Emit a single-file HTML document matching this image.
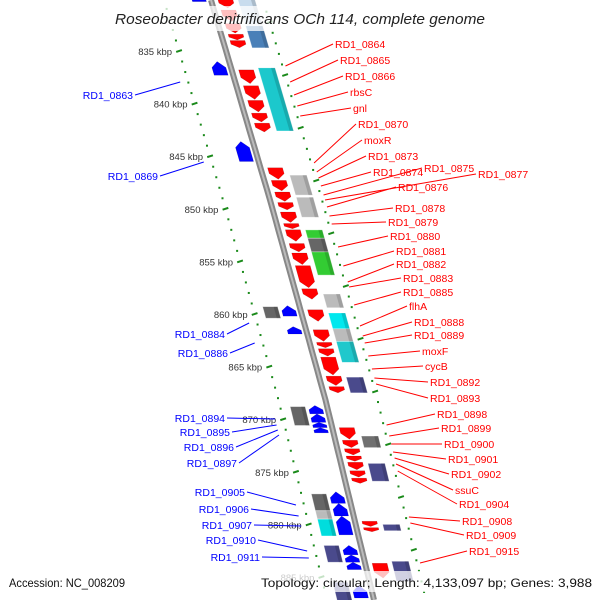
<!DOCTYPE html>
<html><head><meta charset="utf-8"><style>
html,body{margin:0;padding:0;background:#fff;width:600px;height:600px;overflow:hidden}
svg{display:block;overflow:hidden}
text{font-family:"Liberation Sans",sans-serif}
</style></head><body>
<svg id="map" width="600" height="600" viewBox="0 0 600 600" xmlns="http://www.w3.org/2000/svg">
<defs><clipPath id="frame"><rect x="0" y="0" width="600" height="600"/></clipPath></defs>
<g clip-path="url(#frame)">
<g id="ruler"></g>
<g id="genes"></g>
<g id="labels"></g>
</g>
<rect x="105" y="6" width="390" height="25" fill="#fff" opacity="0.75"/>
<text x="115" y="24" font-size="14.5" font-style="italic" fill="#222" textLength="370" lengthAdjust="spacingAndGlyphs">Roseobacter denitrificans OCh 114, complete genome</text>
<rect x="0" y="571" width="600" height="21" fill="#fff" opacity="0.75"/>
<text x="9" y="587" font-size="12" fill="#111" textLength="116" lengthAdjust="spacingAndGlyphs">Accession: NC_008209</text>
<text x="261" y="587" font-size="12" fill="#111" textLength="331" lengthAdjust="spacingAndGlyphs">Topology: circular; Length: 4,133,097 bp; Genes: 3,988</text>
</svg>
<script>
// ---- data (kbp) ----
const redGenes = [[830.0,830.9],[831.1,832.2],[832.4,833.3],[833.4,833.95],[834.0,834.7],
[836.8,838.1],[838.3,839.6],[839.7,840.8],[840.9,841.75],[841.85,842.7],
[846.1,847.2],[847.3,848.3],[848.4,849.3],[849.4,850.1],
[850.3,851.3],[851.4,851.9],[852.0,853.1],[853.3,854.1],[854.2,855.3],[855.4,857.5],[857.6,858.6],
[859.6,860.7],[861.5,862.6],[862.7,863.2],[863.3,864.0],[864.1,865.8],[865.9,866.8],[866.9,867.5],
[870.8,871.9],[872.0,872.7],[872.8,873.4],[873.5,874.0],[874.1,874.8],[874.9,875.5],[875.6,876.1],
[879.7,880.2],[880.3,880.7],[883.7,885.1]];
const blueGenes = [[829.8,830.3],[836.0,837.3],[843.6,845.5],[859.2,860.2],[861.2,861.9],
[868.7,869.5],[869.5,870.3],[870.3,870.8],[870.8,871.3],[876.9,878.0],[878.0,879.2],[879.2,881.0],
[882.0,882.9],[882.9,883.6],[883.6,884.3],[885.8,887.0]];
const rightBoxStart = [830.0,832.6,836.6,846.8,848.9,852.0,852.8,854.1,858.1,859.9,861.4,862.6,866.0,871.6,874.2,880.0,883.5];
const rightBoxEnd   = [832.5,834.7,842.6,848.7,850.8,852.8,854.1,856.3,859.4,861.6,862.6,864.6,867.5,872.7,875.9,880.6,885.4];
const rightBoxColor = ['#c8dcee','#4a80b8','#1cc8cc','#bbbbbb','#bbbbbb','#33cc33','#666666','#33cc33','#bbbbbb','#00e8ee','#bbbbbb','#20c8cc','#4a4a8c','#707070','#4a4a8c','#4a4a8c','#4a4a8c'];
const leftBoxStart = [859.3,868.8,877.1,878.7,879.5,882.0,885.5];
const leftBoxEnd   = [860.4,870.6,878.7,879.5,881.1,883.6,887.5];
const leftBoxColor = ['#666666','#666666','#666666','#bbbbbb','#00dddd','#4a4a8c','#4a4a8c'];
const tickKbp = [830,835,840,845,850,855,860,865,870,875,880,885];
const tickLabels = ['830 kbp','835 kbp','840 kbp','845 kbp','850 kbp','855 kbp','860 kbp','865 kbp','870 kbp','875 kbp','880 kbp','885 kbp'];
const redNames = ['RD1_0864','RD1_0865','RD1_0866','rbsC','gnl','RD1_0870','moxR','RD1_0873','RD1_0874','RD1_0875','RD1_0877','RD1_0876','RD1_0878','RD1_0879','RD1_0880','RD1_0881','RD1_0882','RD1_0883','RD1_0885','flhA','RD1_0888','RD1_0889','moxF','cycB','RD1_0892','RD1_0893','RD1_0898','RD1_0899','RD1_0900','RD1_0901','RD1_0902','ssuC','RD1_0904','RD1_0908','RD1_0909','RD1_0915'];
const redLabelX = [335,340,345,350,353,358,364,368,373,424,478,398,395,388,390,396,396,403,403,409,414,414,422,425,430,430,437,441,444,448,451,455,459,462,466,469];
const redLabelY = [44,60,76,92,108,124,140,156,172,168,174,187,208,222,236,251,264,278,292,306,322,335,351,366,382,398,414,428,444,459,474,490,504,521,535,551];
const redTargetY = [66,82,95,106,116,163,172,178,186,195,200,207,216,224,247,266,282,287,305,326,336,343,356,369,378,384,425,436,444,452,458,464,471,517,523,563];
const blueNames = ['RD1_0863','RD1_0869','RD1_0884','RD1_0886','RD1_0894','RD1_0895','RD1_0896','RD1_0897','RD1_0905','RD1_0906','RD1_0907','RD1_0910','RD1_0911'];
const blueLabelX = [133,158,225,228,225,230,234,237,245,249,252,256,260];
const blueLabelY = [95,176,334,353,418,432,447,463,492,509,525,540,557];
const blueTargetY = [82,162,323,343,419,425,430,435,505,516,526,551,558];

// ---- geometry ----
const bbY=[0,200,400,600], bbX=[211,270,325.5,374];
function bx(y){ if(y<=0) return bbX[0]+(y)*0.295;
  for(let i=0;i<3;i++){ if(y<=bbY[i+1]){const t=(y-bbY[i])/200; return bbX[i]+t*(bbX[i+1]-bbX[i]);} }
  return bbX[3]+(y-600)*0.2425; }
function ky(k){ return 51+(k-835)*10.52; }
function clampY(y){ return Math.max(-2,Math.min(602,y)); }
const NS='http://www.w3.org/2000/svg';
function mk(tag,parent,attrs){const e=document.createElementNS(NS,tag);for(const k in attrs)e.setAttribute(k,attrs[k]);parent.appendChild(e);return e;}
const gR=document.getElementById('ruler'), gG=document.getElementById('genes'), gL=document.getElementById('labels');

// backbone
let pts=[];for(let y=0;y<=600;y+=10)pts.push(bx(y).toFixed(1)+','+y);
const bb1=mk('polyline',gG,{points:pts.join(' '),fill:'none',stroke:'#888',"stroke-width":6});


const bb2=mk('polyline',gG,{points:pts.join(' '),fill:'none',stroke:'#bbb',"stroke-width":2});



// rulers
for(let k=830;k<=887;k++){
  const y=ky(k); if(y<2||y>597) continue;
  const x=bx(y)-47, major=(k%5===0);
  const el=mk('rect',gR,{x:major?x-3:x-1,y:y-1,width:major?6:2,height:2,fill:'#1a8a1a',transform:major?`rotate(-18 ${x} ${y})`:''});
  
  
}
tickKbp.forEach((k,i)=>{const y=ky(k); if(y<8||y>595) return;
  const t=mk('text',gR,{x:bx(y)-54,y:y+4,"font-size":9.5,fill:'#333',"text-anchor":'end'});
  t.textContent=tickLabels[i];
  
  
});
for(let j=-7;j<=50;j++){
  const y=75+j*10.55; if(y<2||y>597) continue;
  const x=bx(y)+52, major=(j%5===0);
  const el=mk('rect',gR,{x:major?x-3:x-1,y:y-1,width:major?6:2,height:2,fill:'#1a8a1a',transform:major?`rotate(-18 ${x} ${y})`:''});
  
  
}

// shapes
function box(k1,k2,o1,o2,color,name){
  const y1=clampY(ky(k1)),y2=clampY(ky(k2));
  const p=mk('polygon',gG,{points:`${bx(y1)+o1},${y1} ${bx(y1)+o2},${y1} ${bx(y2)+o2},${y2} ${bx(y2)+o1},${y2}`,fill:color,stroke:'rgba(255,255,255,0.5)',"stroke-width":0.7});
  
  
  const s=mk('polygon',gG,{points:`${bx(y1)+o2-4},${y1} ${bx(y1)+o2},${y1} ${bx(y2)+o2},${y2} ${bx(y2)+o2-4},${y2}`,fill:'rgba(0,0,0,0.15)'});
  
  
}
function arrow(k1,k2,o1,o2,color,down,name){
  let y1=clampY(ky(k1)),y2=clampY(ky(k2)); const h=Math.min(6,(y2-y1)*0.5); const m=(o1+o2)/2;
  let P;
  if(down){const yh=y2-h;P=[[bx(y1)+o1,y1],[bx(y1)+o2,y1],[bx(yh)+o2,yh],[bx(y2)+m,y2],[bx(yh)+o1,yh]];}
  else{const yh=y1+h;P=[[bx(y1)+m,y1],[bx(yh)+o2,yh],[bx(y2)+o2,y2],[bx(y2)+o1,y2],[bx(yh)+o1,yh]];}
  const p=mk('polygon',gG,{points:P.map(q=>q[0].toFixed(1)+','+q[1].toFixed(1)).join(' '),fill:color,stroke:'rgba(0,0,0,0.2)',"stroke-width":0.5});
  
  
}
rightBoxStart.forEach((s,i)=>box(s,rightBoxEnd[i],27,44,rightBoxColor[i],'right-track-box'));
leftBoxStart.forEach((s,i)=>box(s,leftBoxEnd[i],-37,-22,leftBoxColor[i],'left-track-box'));
redGenes.forEach(g=>arrow(g[0],g[1],7,22,'#ff0000',true,'forward-gene'));
blueGenes.forEach(g=>arrow(g[0],g[1],-19,-5,'#0000ff',false,'reverse-gene'));

// labels
redNames.forEach((n,i)=>{
  const ty=redTargetY[i];
  const l=mk('line',gL,{x1:bx(ty)+55,y1:ty,x2:redLabelX[i]-2,y2:redLabelY[i],stroke:'#ff0000',"stroke-width":1});
  
  
  const t=mk('text',gL,{x:redLabelX[i],y:redLabelY[i]+4,"font-size":10.5,fill:'#ff0000'});
  t.textContent=n;
  
  
});
blueNames.forEach((n,i)=>{
  const ty=blueTargetY[i];
  const l=mk('line',gL,{x1:bx(ty)-55,y1:ty,x2:blueLabelX[i]+2,y2:blueLabelY[i],stroke:'#0000ff',"stroke-width":1});
  
  
  const t=mk('text',gL,{x:blueLabelX[i],y:blueLabelY[i]+4,"font-size":10.5,fill:'#0000ff',"text-anchor":'end'});
  t.textContent=n;
  
  
});
</script>
</body></html>
